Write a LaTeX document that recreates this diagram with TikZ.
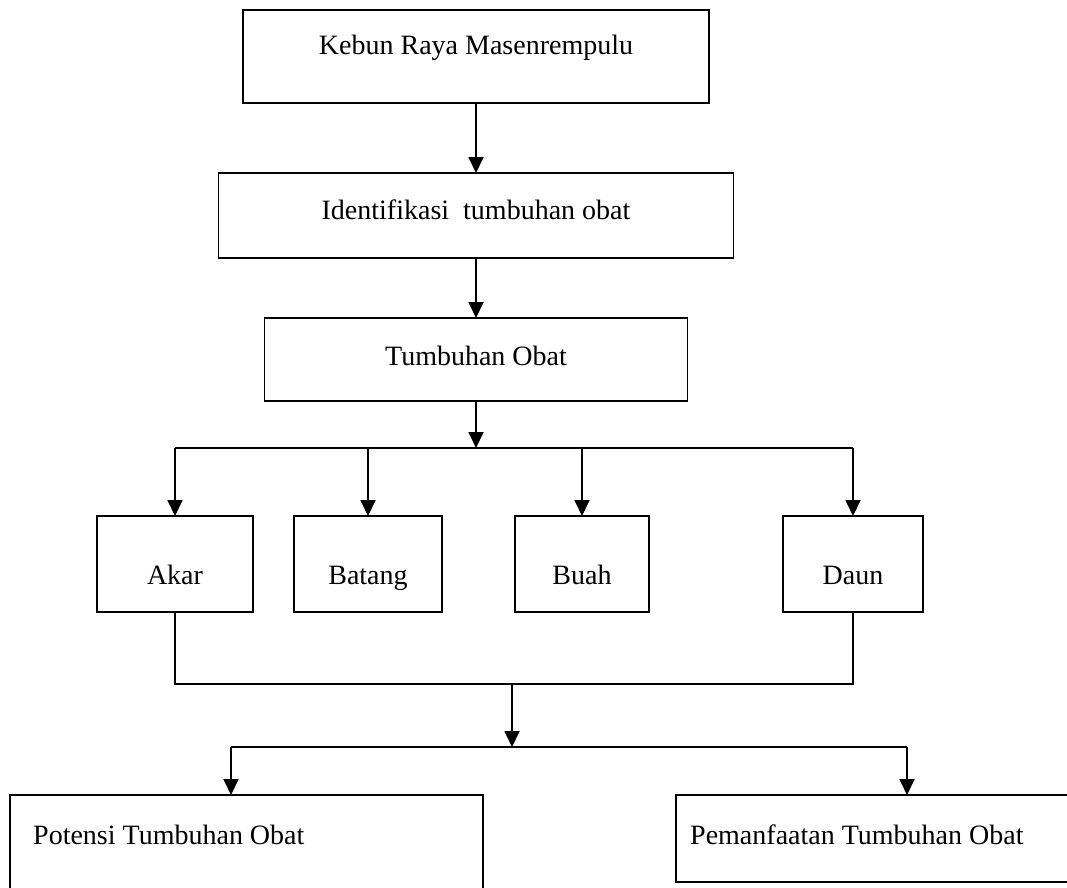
\documentclass[tikz,border=0pt]{standalone}
\usepackage{fontspec}
\setmainfont{Liberation Serif}
\usetikzlibrary{arrows.meta}
\tikzset{
  boxn/.style={draw, line width=1.8pt, inner sep=0pt, outer sep=0pt},
  lbl/.style={font=\fontsize{28}{34}\selectfont, inner sep=0pt},
  conn/.style={line width=1.8pt},
  arr/.style={conn, -{Triangle[width=15pt,length=16pt]}},
}
\begin{document}
\begin{tikzpicture}[x=1pt,y=-1pt]
\useasboundingbox (0,0) rectangle (1067,887);
\clip (0,0) rectangle (1067,887);
% top chain
\node[boxn, minimum width=466pt, minimum height=93pt] (b1) at (476,56.5) {};
\node[lbl, anchor=base] (t1) at (476,54) {Kebun Raya Masenrempulu};
\node[boxn, minimum width=515pt, minimum height=85pt] (b2) at (476,215.5) {};
\node[lbl, anchor=base] (t2) at (476,219) {Identifikasi\ \ tumbuhan obat};
\node[boxn, minimum width=423pt, minimum height=83pt] (b3) at (476,359.5) {};
\node[lbl, anchor=base] (t3) at (476,365) {Tumbuhan Obat};
\draw[arr] (b1.south) -- (b2.north);
\draw[arr] (b2.south) -- (b3.north);
% parts
\node[boxn, minimum width=156pt, minimum height=96pt] (akar) at (175,564) {};
\node[lbl, anchor=base] (takar) at (175,584) {Akar};
\node[boxn, minimum width=148pt, minimum height=96pt] (batang) at (368,564) {};
\node[lbl, anchor=base] (tbatang) at (368,584) {Batang};
\node[boxn, minimum width=134pt, minimum height=96pt] (buah) at (582,564) {};
\node[lbl, anchor=base] (tbuah) at (582,584) {Buah};
\node[boxn, minimum width=140pt, minimum height=96pt] (daun) at (853,564) {};
\node[lbl, anchor=base] (tdaun) at (853,584) {Daun};
\coordinate (j1) at (476,448);
\draw[arr] (b3.south) -- (j1);
\draw[conn] (akar.north |- j1) -- (daun.north |- j1);
\foreach \n in {akar,batang,buah,daun} \draw[arr] (\n.north |- j1) -- (\n.north);
% merge
\coordinate (j2) at (512,684);
\coordinate (j3) at (512,747);
\draw[conn] (akar.south) -- (akar.south |- j2) -- (daun.south |- j2) -- (daun.south);
\draw[arr] (j2) -- (j3);
% bottom boxes
\node[boxn, minimum width=473pt, minimum height=105pt] (pot) at (246.5,847.5) {};
\node[lbl, anchor=base west] (tpot) at (33,844) {Potensi Tumbuhan Obat};
\node[boxn, minimum width=404pt, minimum height=87pt] (pem) at (878,838.5) {};
\node[lbl, anchor=base west] (tpem) at (690,844) {Pemanfaatan Tumbuhan Obat};
\coordinate (a1) at (231,747);
\coordinate (a2) at (907,747);
\draw[conn] (a1) -- (a2);
\draw[arr] (a1) -- (a1 |- pot.north);
\draw[arr] (a2) -- (a2 |- pem.north);
\end{tikzpicture}
\end{document}
